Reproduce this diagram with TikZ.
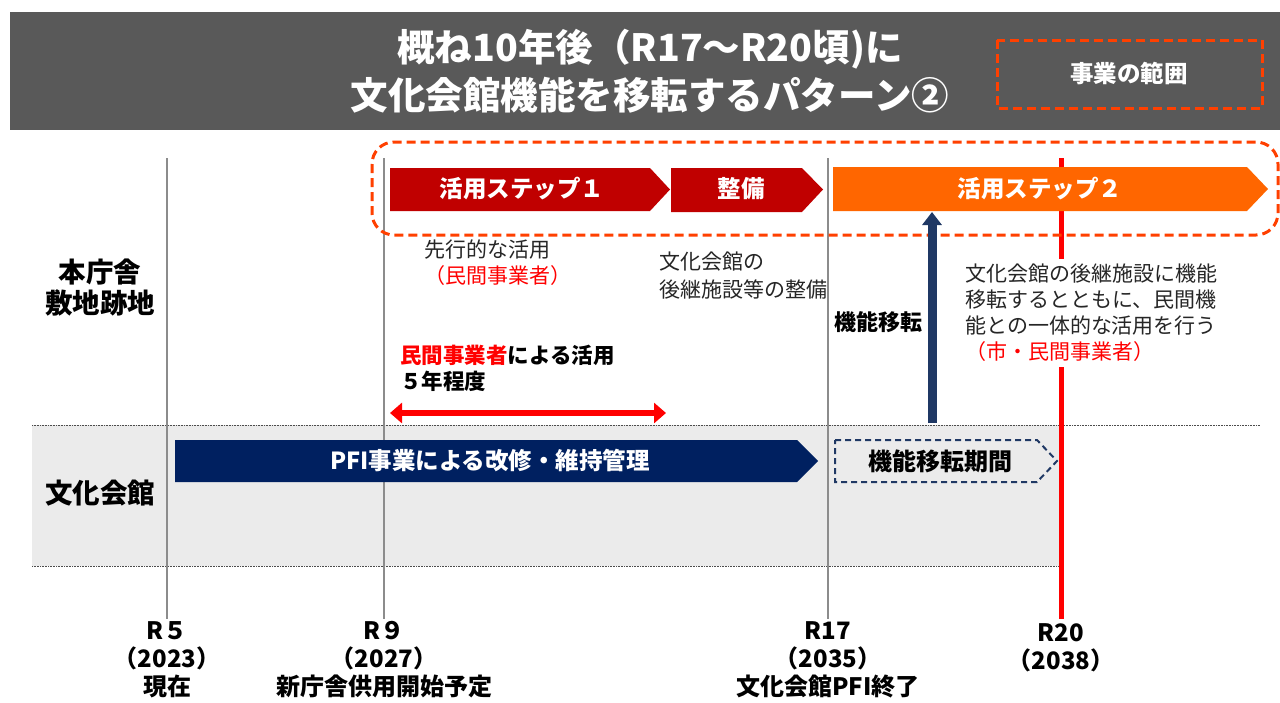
\documentclass[tikz,border=0pt]{standalone}
\usepackage{fontspec}
\setmainfont{Noto Sans CJK JP}
\usetikzlibrary{arrows.meta}
\definecolor{titlegray}{HTML}{595959}
\definecolor{scopered}{HTML}{FF4000}
\definecolor{darkred}{HTML}{C00000}
\definecolor{steporange}{HTML}{FF6600}
\definecolor{navy}{HTML}{002060}
\definecolor{arrowblue}{HTML}{1F3864}
\definecolor{bandgray}{HTML}{EBEBEB}
\definecolor{linegray}{HTML}{8C8C8C}
\definecolor{txt}{HTML}{262626}
\definecolor{pure red}{HTML}{FF0000}
\tikzset{
  body/.style={font=\fontsize{21}{26}\selectfont, text=txt, inner sep=0pt},
  bodyb/.style={font=\bfseries\fontsize{21.5}{26}\selectfont, text=black, inner sep=0pt},
  chevtext/.style={font=\bfseries\fontsize{23.5}{26}\selectfont, text=white, inner sep=0pt},
  rowlabel/.style={font=\bfseries\fontsize{27.5}{31}\selectfont, text=black, align=center, inner sep=0pt},
  yearlabel/.style={font=\bfseries\fontsize{24}{28}\selectfont, text=black, align=center, inner sep=0pt, anchor=north},
  timeline/.style={draw=linegray, line width=2.5pt},
  scopebox/.style={draw=scopered, line width=3pt, dash pattern=on 9pt off 5pt},
  dotsep/.style={draw=black!70, line width=0.8pt, dash pattern=on 0.8pt off 0.8pt},
}
\begin{document}
\begin{tikzpicture}[x=1pt,y=-1pt]
\useasboundingbox (0,0) rectangle (1280,702);
\fill[white] (0,0) rectangle (1280,702);

% title bar
\fill[titlegray] (10,12) rectangle (1280,130);
\node[font=\bfseries\fontsize{37.5}{48}\selectfont, text=white, align=center, inner sep=0pt] (title) at (650,71)
  {概ね10年後（R17～R20頃)に\\文化会館機能を移転するパターン②};
\draw[scopebox] (997,40) rectangle (1262,108);
\node[font=\bfseries\fontsize{23.5}{24}\selectfont, text=white, inner sep=0pt] (scopelbl) at (1129,73) {事業の範囲};

% band
\fill[bandgray] (32,425) rectangle (1061,566);
\draw[dotsep] (32,425) -- (1260,425);
\draw[dotsep] (32,566) -- (1061,566);

% timelines
\draw[timeline] (167,158) -- (167,619);
\draw[timeline] (384,158) -- (384,619);
\draw[timeline] (828,158) -- (828,619);
\draw[draw=pure red, line width=5pt] (1061,158) -- (1061,619);

% project scope box
\draw[scopebox, rounded corners=22pt] (372,142) rectangle (1278,235);

% step chevrons
\fill[darkred] (390,168) -- (650,168) -- (670,189.5) -- (650,211) -- (390,211) -- cycle;
\node[chevtext] (step1) at (522,189) {活用ステップ１};
\fill[darkred] (671,168) -- (802,168) -- (823,189.5) -- (802,212) -- (671,212) -- cycle;
\node[chevtext] (seibi) at (741,189) {整備};
\fill[steporange] (833,167) -- (1247,167) -- (1268,189) -- (1247,211) -- (833,211) -- cycle;
\node[chevtext] (step2) at (1040,189) {活用ステップ２};

% texts upper row
\node[rowlabel] (rowA) at (100,288) {本庁舎\\敷地跡地};
\node[rowlabel] (rowB) at (100,493) {文化会館};

\node[body, align=left, anchor=west] (senko) at (424,263)
  {先行的な活用\\\textcolor{pure red}{（民間事業者）}};
\node[body, align=left, anchor=west, font=\fontsize{21}{28}\selectfont] (seibitxt) at (659,276)
  {文化会館の\\後継施設等の整備};
\node[bodyb, align=left, anchor=west] (minkan) at (400,368)
  {\textcolor{pure red}{民間事業者}による活用\\５年程度};
\node[bodyb, font=\bfseries\fontsize{22}{26}\selectfont] (iten) at (878,322) {機能移転};
\node[body, align=left, anchor=west, fill=white, inner ysep=5pt, inner xsep=2pt] (para) at (963,313)
  {文化会館の後継施設に機能\\移転するとともに、民間機\\能との一体的な活用を行う\\\textcolor{pure red}{（市・民間事業者）}};

% arrows
\coordinate (dr1) at (390,413);
\coordinate (dr2) at (666,413);
\draw[draw=pure red, line width=6pt, {Triangle[length=12pt,width=20pt]}-{Triangle[length=12pt,width=20pt]}] (dr1) -- (dr2);
\coordinate (mvfrom) at (932,423);
\coordinate (mvto) at (932,212);
\draw[draw=arrowblue, line width=9pt, -{Triangle[length=13pt,width=19pt]}] (mvfrom) -- (mvto);

% lower row chevrons
\fill[navy] (175,440) -- (797,440) -- (818,461) -- (797,482) -- (175,482) -- cycle;
\node[chevtext] (pfi) at (490,461) {PFI事業による改修・維持管理};
\draw[arrowblue, line width=2pt, dash pattern=on 6pt off 4pt] (835,440) -- (1037,440) -- (1057,461) -- (1037,482) -- (835,482) -- cycle;
\node[bodyb, font=\bfseries\fontsize{24}{26}\selectfont] (itenkikan) at (940,461) {機能移転期間};

% year labels
\node[yearlabel] (y5) at (167,621) {R５\\（2023）\\現在};
\node[yearlabel] (y9) at (384,621) {R９\\（2027）\\新庁舎供用開始予定};
\node[yearlabel] (y17) at (828,621) {R17\\（2035）\\文化会館PFI終了};
\node[yearlabel] (y20) at (1061,623) {R20\\（2038）};
\end{tikzpicture}
\end{document}
